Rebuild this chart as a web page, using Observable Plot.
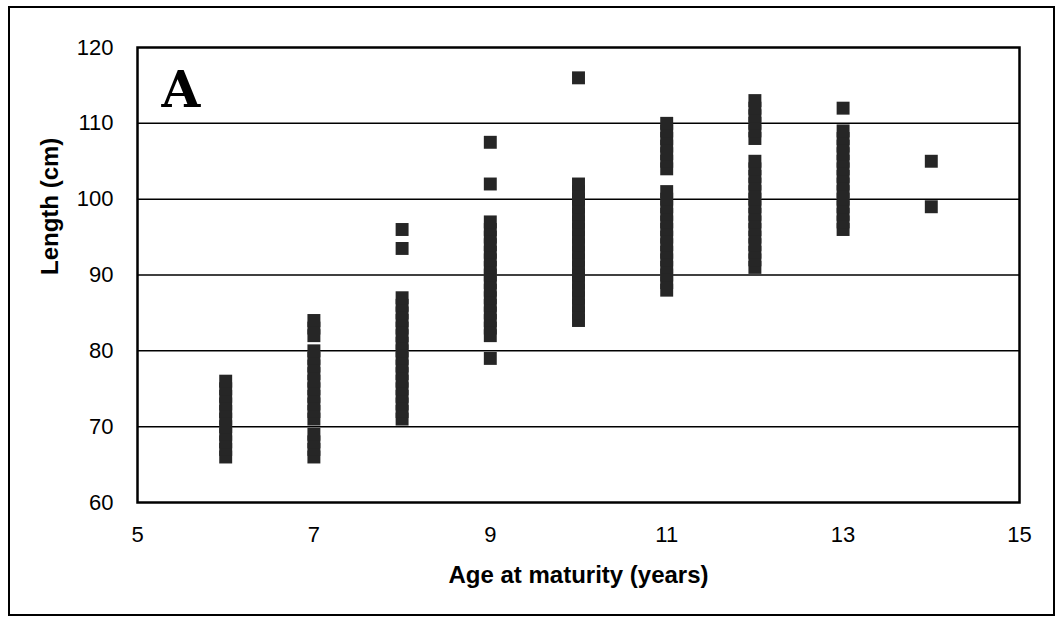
<!DOCTYPE html>
<html><head><meta charset="utf-8">
<script src="https://cdn.jsdelivr.net/npm/d3@7"></script>
<script src="https://cdn.jsdelivr.net/npm/@observablehq/plot@0.6"></script>
<style>
body{margin:0;background:#fff;}
#wrap{position:relative;width:1058px;height:626px;overflow:hidden;}
#border{position:absolute;left:8px;top:6px;width:1043px;height:606px;border:2.5px solid #000;pointer-events:none;}
</style></head><body>
<div id="wrap"><div id="chart"></div><div id="border"></div></div>
<script>
// Length (cm) of individuals by age at maturity (years)
const age6  = [66,67,68,69,70,71,72,73,74,75,76];
const age7  = [66,67,68,69,71,72,73,74,75,76,77,78,79,80,82,83,84];
const age8  = [71,72,73,74,75,76,77,78,79,80,81,82,83,84,85,86,87,93.5,96];
const age9  = [79,82,83,84,85,86,87,88,89,90,91,92,93,94,95,96,97,102,107.5];
const age10 = [84,85,86,87,88,89,90,91,92,93,94,95,96,97,98,99,100,101,102,116];
const age11 = [88,89,90,91,92,93,94,95,96,97,98,99,100,101,104,105,106,107,108,109,110];
const age12 = [91,92,93,94,95,96,97,98,99,100,101,102,103,104,105,108,109,110,111,112,113];
const age13 = [96,97,98,99,100,101,102,103,104,105,106,107,108,109,112];
const age14 = [99,105];
const ages = [6,7,8,9,10,11,12,13,14];
const lengthsByAge = [age6,age7,age8,age9,age10,age11,age12,age13,age14];

const xTicks = [5,7,9,11,13,15];
const yTicks = [60,70,80,90,100,110,120];
const gridTicks = [70,80,90,100,110];
const xTitle = "Age at maturity (years)";
const yTitle = "Length (cm)";
const panelLetter = "A";

const data = [];
ages.forEach((a,i) => lengthsByAge[i].forEach(v => data.push({age:a, length:v})));

const chart = Plot.plot({
  width: 1058,
  height: 626,
  marginLeft: 137,
  marginRight: 39,
  marginTop: 47,
  marginBottom: 124,
  style: {fontFamily: "'Liberation Sans', Arial, sans-serif", fontSize: "22px", color: "#000", background: "#fff"},
  x: {domain: [5,15]},
  y: {domain: [60,120]},
  marks: [
    Plot.gridY(gridTicks, {stroke: "#000", strokeOpacity: 1, strokeWidth: 1.5}),
    Plot.frame({stroke: "#000", strokeWidth: 2.5}),
    Plot.axisY(yTicks, {tickSize: 0, tickPadding: 24, label: null, fontSize: 22}),
    Plot.axisX(xTicks, {tickSize: 0, tickPadding: 24, label: null, fontSize: 22}),
    Plot.dot(data, {x: "age", y: "length", symbol: "square", r: 7.3, fill: "#262626", stroke: "none"}),
    Plot.text([panelLetter], {frameAnchor: "top-left", dx: 24, dy: 24, fontSize: 50, fontWeight: "bold", fontFamily: "'DejaVu Serif', serif", fill: "#000"}),
    Plot.text([xTitle], {frameAnchor: "bottom", dy: 80, fontSize: 24, fontWeight: "bold", fill: "#000"}),
    Plot.text([yTitle], {frameAnchor: "left", dx: -87, rotate: -90, fontSize: 24, fontWeight: "bold", fill: "#000"})
  ]
});
document.getElementById("chart").appendChild(chart);
</script>
</body></html>
